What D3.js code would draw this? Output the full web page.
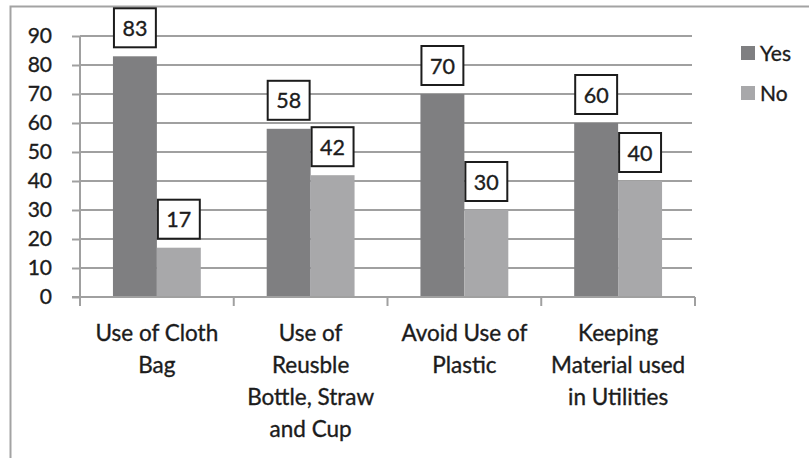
<!DOCTYPE html>
<html>
<head>
<meta charset="utf-8">
<script src="https://cdn.jsdelivr.net/npm/d3@7"></script>
<style>
  html, body { margin: 0; padding: 0; background: #fff; }
  svg { display: block; font-family: Lato, "Open Sans", sans-serif; }
  svg text { stroke: #1c1c1c; stroke-width: 0.35px; }
</style>
</head>
<body>
<svg id="chart" width="809" height="458"></svg>
<script>
// Survey responses per practice
const categories = [
  ["Use of Cloth", "Bag"],
  ["Use of", "Reusble", "Bottle, Straw", "and Cup"],
  ["Avoid Use of", "Plastic"],
  ["Keeping", "Material used", "in Utilities"]
];
const seriesNames = ["Yes", "No"];
const yesValues = [83, 58, 70, 60];
const noValues = [17, 42, 30, 40];
const yTicks = [0, 10, 20, 30, 40, 50, 60, 70, 80, 90];

const colors = { Yes: "#7f7f81", No: "#a8a8aa" };
const ink = "#1c1c1c";
const lineGray = "#a0a0a0";
const svg = d3.select("#chart");

// outer frame
svg.append("path")
  .attr("d", "M10.5,458 L10.5,6.5 L809,6.5")
  .attr("fill", "none").attr("stroke", "#a3a3a3").attr("stroke-width", 2);

const plot = { left: 80, right: 695, top: 36, bottom: 297 };

const x = d3.scaleBand()
  .domain(d3.range(categories.length))
  .range([plot.left, plot.right])
  .paddingInner(0).paddingOuter(0);

const xInner = d3.scaleBand()
  .domain(seriesNames)
  .range([0, x.bandwidth()])
  .paddingOuter(0.75).paddingInner(0);

const y = d3.scaleLinear().domain([0, 90]).range([plot.bottom, plot.top]);

// gridlines
svg.append("g").selectAll("line").data(yTicks.filter(d => d > 0)).join("line")
  .attr("x1", plot.left).attr("x2", 692)
  .attr("y1", d => y(d)).attr("y2", d => y(d))
  .attr("stroke", lineGray).attr("stroke-width", 2);

// y axis
const yAxis = svg.append("g").attr("transform", `translate(${plot.left},0)`)
  .call(d3.axisLeft(y).tickValues(yTicks).tickSize(8).tickPadding(20).tickSizeOuter(0));
yAxis.select(".domain").remove();
yAxis.append("line").attr("x1", 0).attr("x2", 0).attr("y1", plot.top).attr("y2", plot.bottom + 9)
  .attr("stroke", lineGray).attr("stroke-width", 2);
yAxis.selectAll(".tick line").attr("stroke", lineGray).attr("stroke-width", 2);
yAxis.selectAll(".tick text").attr("font-size", 21).attr("fill", ink).attr("font-family", "Lato, sans-serif");

// data rows
const rows = categories.map((c, i) => ({ i, Yes: yesValues[i], No: noValues[i] }));

const groups = svg.append("g").selectAll("g").data(rows).join("g")
  .attr("transform", d => `translate(${x(d.i)},0)`);

groups.selectAll("rect").data(d => seriesNames.map(k => ({ k, v: d[k] }))).join("rect")
  .attr("x", d => xInner(d.k))
  .attr("width", xInner.bandwidth())
  .attr("y", d => y(d.v))
  .attr("height", d => y(0) - y(d.v))
  .attr("fill", d => colors[d.k]);

// value labels in boxes
const lab = groups.selectAll("g.lab").data(d => seriesNames.map(k => ({ k, v: d[k] }))).join("g")
  .attr("class", "lab")
  .attr("transform", d => `translate(${xInner(d.k) + xInner.bandwidth() / 2},${y(d.v) - 8})`);
lab.append("rect")
  .attr("x", -xInner.bandwidth() / 2 + 1).attr("y", -40)
  .attr("width", xInner.bandwidth() - 2).attr("height", 39)
  .attr("fill", "#fff").attr("stroke", ink).attr("stroke-width", 2);
lab.append("text")
  .attr("y", -12.5).attr("text-anchor", "middle")
  .attr("font-size", 21.5).attr("fill", ink)
  .text(d => d.v);

// x axis
svg.append("line").attr("x1", plot.left - 8).attr("x2", plot.right)
  .attr("y1", plot.bottom).attr("y2", plot.bottom)
  .attr("stroke", lineGray).attr("stroke-width", 2);
const bounds = d3.range(categories.length + 1).map(i => plot.left + i * x.bandwidth());
svg.append("g").selectAll("line").data(bounds).join("line")
  .attr("x1", d => d).attr("x2", d => d)
  .attr("y1", plot.bottom).attr("y2", plot.bottom + 9)
  .attr("stroke", lineGray).attr("stroke-width", 2);

// category labels
const catText = svg.append("g").selectAll("text").data(categories).join("text")
  .attr("text-anchor", "middle")
  .attr("font-size", 22.5).attr("fill", ink)
  .attr("x", (d, i) => x(i) + x.bandwidth() / 2)
  .attr("y", 341);
catText.selectAll("tspan").data(d => d).join("tspan")
  .attr("x", function () { return d3.select(this.parentNode).attr("x"); })
  .attr("dy", (d, j) => j === 0 ? 0 : 32)
  .text(d => d);

// legend
const legend = svg.append("g").selectAll("g").data(seriesNames).join("g")
  .attr("transform", (d, i) => `translate(741,${46 + i * 40})`);
legend.append("rect").attr("width", 14).attr("height", 14).attr("fill", d => colors[d]);
legend.append("text").attr("x", 19).attr("y", 15).attr("font-size", 21).attr("fill", ink).text(d => d);
</script>
</body>
</html>
